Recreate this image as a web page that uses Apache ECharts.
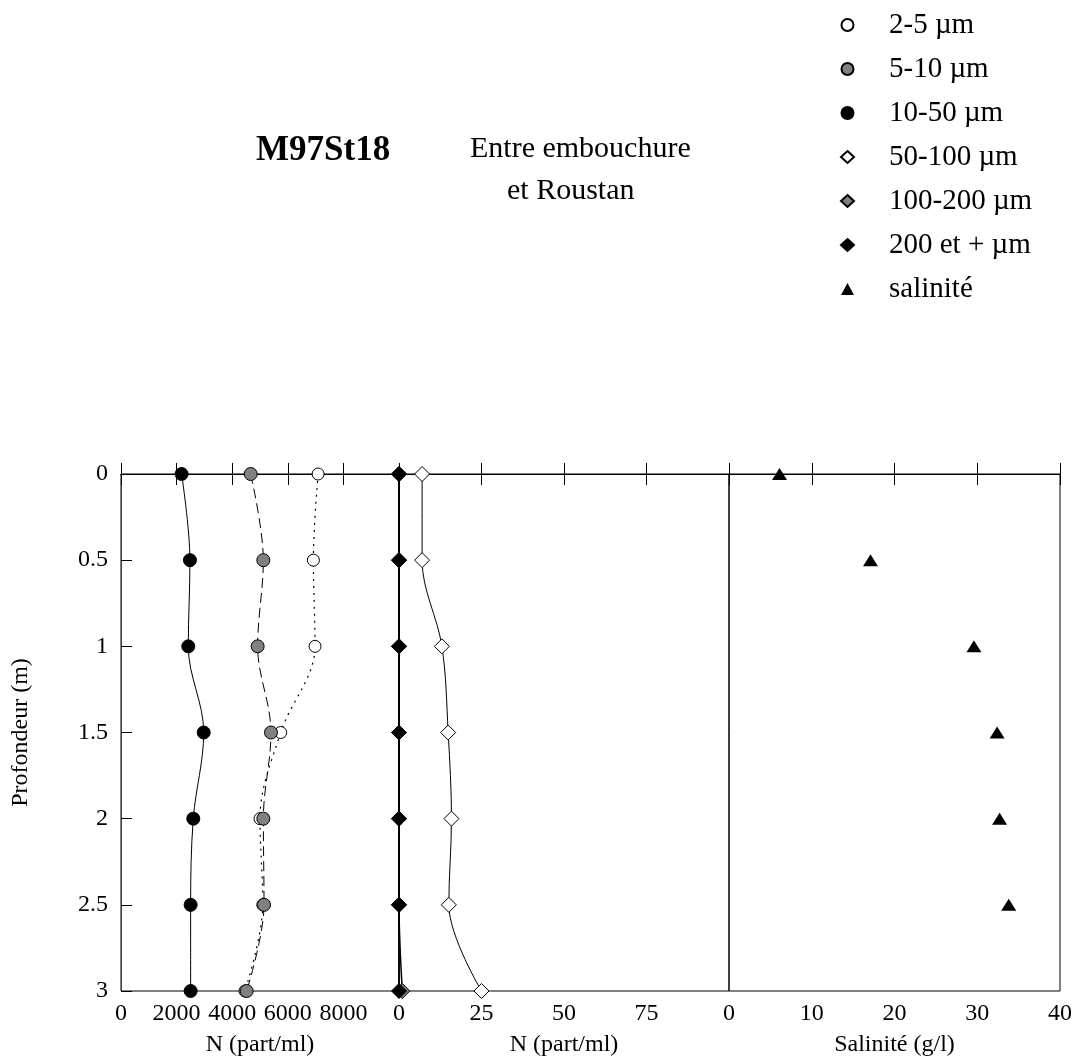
<!DOCTYPE html>
<html><head><meta charset="utf-8">
<script src="https://cdn.jsdelivr.net/npm/echarts@6/dist/echarts.min.js"></script>
<style>html,body{margin:0;padding:0;background:#fff}#c{width:1076px;height:1063px}</style>
</head><body><div id="c"></div>
<script>
// ---- data ----
const depths = [0, 0.5, 1, 1.5, 2, 2.5, 3];
const n2_5 = [7090, 6920, 6980, 5745, 5000, 5100, 4460];
const n5_10 = [4665, 5120, 4915, 5395, 5120, 5145, 4520];
const n10_50 = [2180, 2480, 2420, 2975, 2600, 2505, 2505];
const n50_100 = [7, 7, 13, 14.9, 15.9, 15.1, 25];
const n100_200 = [0, 0, 0, 0, 0, 0, 1];
const n200plus = [0, 0, 0, 0, 0, 0, 0];
const salDepths = [0, 0.5, 1, 1.5, 2, 2.5];
const salinity = [6.1, 17.1, 29.6, 32.4, 32.7, 33.8];
const seriesNames = ['2-5 µm', '5-10 µm', '10-50 µm', '50-100 µm', '100-200 µm', '200 et + µm', 'salinité'];
const xNames = ['N (part/ml)', 'N (part/ml)', 'Salinité (g/l)'];
const xRanges = [[0, 10000, 2000], [0, 100, 25], [0, 40, 10]];
const depthRange = [0, 3, 0.5];

const FONT = 'Liberation Serif';
const pair = (xs, ys) => xs.map((v, i) => [v, ys[i]]);

const grids = [
  {left: 121, width: 278, top: 474, height: 517},
  {left: 399, width: 330, top: 474, height: 517},
  {left: 729, width: 331, top: 474, height: 517}
].map(g => Object.assign(g, {show: true, borderColor: '#000', borderWidth: 1, backgroundColor: 'transparent'}));

const tick = {show: true, inside: true, length: 11, lineStyle: {color: '#000', width: 1}};
const xAxes = [];
xRanges.forEach((r, i) => {
  xAxes.push({
    type: 'value', gridIndex: i, position: 'bottom', min: r[0], max: r[1], interval: r[2],
    splitLine: {show: false}, axisLine: {show: true, lineStyle: {color: '#000'}},
    axisTick: tick,
    axisLabel: {color: '#000', fontFamily: FONT, fontSize: 24, margin: 11, showMaxLabel: i === 2, showMinLabel: true,
      formatter: v => String(v)},
    name: xNames[i], nameLocation: 'middle', nameGap: 42,
    nameTextStyle: {color: '#000', fontFamily: FONT, fontSize: 24}
  });
});
xRanges.forEach((r, i) => {
  xAxes.push({
    type: 'value', gridIndex: i, position: 'top', min: r[0], max: r[1], interval: r[2],
    splitLine: {show: false}, axisLine: {show: true, lineStyle: {color: '#000'}},
    axisTick: tick, axisLabel: {show: false}
  });
});
const yAxes = [0, 1, 2].map(i => ({
  type: 'value', gridIndex: i, inverse: true, min: depthRange[0], max: depthRange[1], interval: depthRange[2],
  show: i === 0, splitLine: {show: false},
  axisLine: {show: true, lineStyle: {color: '#444'}},
  axisTick: {show: true, inside: true, length: 11, lineStyle: {color: '#000'}},
  axisLabel: {color: '#000', fontFamily: FONT, fontSize: 24, margin: 13, formatter: v => String(v)},
  name: i === 0 ? 'Profondeur (m)' : '', nameLocation: 'middle', nameGap: 88,
  nameTextStyle: {color: '#000', fontFamily: FONT, fontSize: 24}
}));

function lineSeries(name, xi, vals, symbol, size, fill, lineType, lw) {
  return {
    name: name, type: 'line', xAxisIndex: xi, yAxisIndex: xi,
    data: pair(vals, depths), smooth: 0.35, clip: false,
    symbol: symbol, symbolSize: size, showAllSymbol: true,
    itemStyle: {color: fill, borderColor: '#000', borderWidth: 1, opacity: 1},
    lineStyle: {color: '#000', width: lw, type: lineType},
    emphasis: {disabled: true}, animation: false
  };
}

const series = [
  lineSeries(seriesNames[0], 0, n2_5, 'circle', 12, '#ffffff', [2, 5], 1.2),
  lineSeries(seriesNames[1], 0, n5_10, 'circle', 13, '#808080', [10, 5], 1),
  lineSeries(seriesNames[2], 0, n10_50, 'circle', 13, '#000000', 'solid', 1),
  lineSeries(seriesNames[3], 1, n50_100, 'diamond', 15, '#ffffff', 'solid', 1),
  lineSeries(seriesNames[4], 1, n100_200, 'diamond', 15, '#808080', 'solid', 1.5),
  lineSeries(seriesNames[5], 1, n200plus, 'diamond', 15, '#000000', 'solid', 1.6),
  {
    name: seriesNames[6], type: 'scatter', xAxisIndex: 2, yAxisIndex: 2,
    data: pair(salinity, salDepths), symbol: 'triangle', symbolSize: [15, 12], clip: false,
    itemStyle: {color: '#000', opacity: 1}, emphasis: {disabled: true}, animation: false
  }
];

const legendIcons = ['circle', 'circle', 'circle', 'diamond', 'diamond', 'diamond', 'triangle'];

const option = {
  backgroundColor: '#fff',
  animation: false,
  grid: grids,
  xAxis: xAxes,
  yAxis: yAxes,
  legend: {
    orient: 'vertical', left: 840, top: 10, itemWidth: 13, itemHeight: 12, itemGap: 14,
    symbolKeepAspect: true, selectedMode: false, padding: 0,
    textStyle: {color: '#000', fontFamily: FONT, fontSize: 29, lineHeight: 30, padding: [0, 0, 0, 30]},
    data: seriesNames.map((n, i) => ({name: n, icon: legendIcons[i]}))
  },
  graphic: [
    {type: 'text', left: 256, top: 133, style: {text: 'M97St18', font: 'bold 35px "Liberation Serif"', fill: '#000'}},
    {type: 'text', left: 470, top: 134, style: {text: 'Entre embouchure', font: '30px "Liberation Serif"', fill: '#000'}},
    {type: 'text', left: 507, top: 176, style: {text: 'et Roustan', font: '30px "Liberation Serif"', fill: '#000'}}
  ],
  series: series
};
const chart = echarts.init(document.getElementById('c'), null, {renderer: 'canvas'});
chart.setOption(option);
</script></body></html>
